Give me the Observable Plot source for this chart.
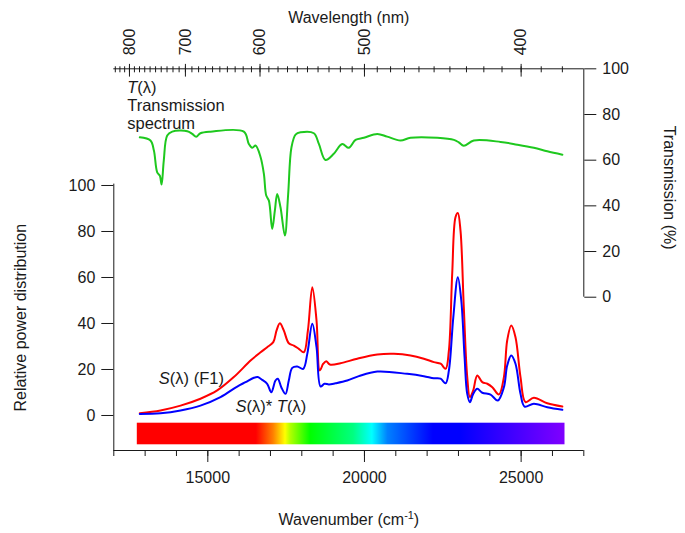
<!DOCTYPE html>
<html>
<head>
<meta charset="utf-8">
<script src="https://cdn.jsdelivr.net/npm/d3@7"></script>
<script src="https://cdn.jsdelivr.net/npm/@observablehq/plot@0.6"></script>
<style>
  html, body { margin: 0; padding: 0; background: #fff; }
</style>
</head>
<body>
<div id="chart"></div>
<script>
// ---------- data ----------
// Transmission spectrum T(λ), in %, against wavenumber (cm^-1)
const wnT = [12830,13170,13280,13385,13470,13525,13595,13705,13865,14345,14505,14630,14765,15085,16150,16310,16420,16525,16685,16790,16865,16950,17055,17140,17215,17320,17460,17565,17670,17800,17960,18385,18545,18755,19020,19290,19500,19715,19980,20410,20725,21150,21470,22325,22855,23010,23170,23490,24345,24875,25405,25835,26315];
const transT = [70.0,68.6,64.2,54.7,53.2,49.3,59.8,70.8,72.5,72.7,71.5,70.3,71.8,72.5,72.5,67.1,65.4,66.4,61.3,54.0,44.5,42.3,29.9,37.9,45.2,39.4,27.0,45.2,65.6,71.2,72.2,71.8,67.1,60.1,62.8,67.1,65.4,68.9,69.8,71.5,70.3,68.6,69.8,69.8,68.9,67.8,66.3,68.6,68.0,66.8,65.4,63.9,62.4];

// S(λ) (F1) relative power distribution
const wnF1 = [12830,13490,14130,14765,15300,15830,16365,16685,16895,17090,17195,17300,17425,17585,17745,17905,18065,18195,18335,18470,18575,18685,18780,18895,19235,19770,20410,20940,21470,21895,22215,22430,22590,22695,22800,22905,22980,23065,23170,23280,23365,23470,23600,23760,23920,24080,24290,24450,24555,24685,24820,24980,25140,25405,25835,26315];
const sF1 = [1.0,2.2,4.3,7.3,10.9,16.7,23.9,27.5,29.7,31.9,37.0,40.1,37.0,31.4,30.4,29.0,27.5,37.0,55.8,41.3,19.6,22.5,23.6,22.2,22.7,24.7,26.5,26.8,26.1,24.7,23.2,22.5,20.3,28.3,61.6,86.2,88.0,80.4,47.1,16.7,8.0,10.9,17.4,14.5,13.8,12.3,9.1,16.7,32.6,39.1,34.0,16.7,5.8,7.7,5.3,3.9];

// S(λ)*T(λ)
const wnST = [12830,13490,14130,14765,15405,15940,16205,16470,16595,16735,16895,17025,17160,17235,17345,17480,17585,17695,17855,18045,18175,18335,18470,18600,18725,18865,19075,19450,19820,20410,21365,21895,22215,22430,22590,22695,22835,22980,23090,23195,23280,23365,23470,23600,23760,24025,24255,24450,24555,24685,24820,24980,25110,25405,25835,26315];
const sST = [0.7,1.0,2.2,4.3,8.0,12.6,14.5,16.4,16.7,15.5,13.8,10.1,15.2,16.0,12.3,9.4,15.2,20.7,21.3,20.3,26.8,39.9,29.7,12.6,13.8,13.5,14.0,15.2,17.1,19.1,18.1,17.1,16.2,16.0,14.0,19.6,42.7,60.1,50.0,25.3,9.4,5.8,9.4,11.6,9.9,9.1,6.5,12.3,21.7,26.1,22.5,9.4,3.9,5.1,3.6,2.5];

// tick values
const powerTicks = [0, 20, 40, 60, 80, 100];
const transTicks = [0, 20, 40, 60, 80, 100];
const wavenumberMajor = [15000, 20000, 25000];
const wavenumberMinor = d3.range(12000, 27001, 1000);
const wavelengthMajor = [800, 700, 600, 500, 400];
const wavelengthMinor = d3.range(380, 831, 10);

// visible-spectrum colour bar: wavenumber stops and colours
const spectrumStart = 12750, spectrumEnd = 26400;
const spectrumWn = [12750, 16550, 17100, 17480, 17650, 18280, 19650, 20250, 20750, 22200, 23050, 26400];
const spectrumColors = ["#ff0000","#ff0000","#ff8000","#ffff00","#b0ff00","#00ff00","#00ff80","#00ffff","#0080ff","#0000ff","#0000ff","#8000ff"];

// ---------- scales ----------
const xDomain = [12000, 27000];
const yDomain = [-15.22, 150.74];          // left (power) scale, shared frame
const tZero = 51.43, tScale = 0.993;        // transmission axis mapped onto the frame
const toP = t => tZero + t * tScale;
const fromP = p => (p - tZero) / tScale;

const transData = wnT.map((w, i) => ({w, v: toP(transT[i])}));
const f1Data = wnF1.map((w, i) => ({w, v: sF1[i]}));
const stData = wnST.map((w, i) => ({w, v: sST[i]}));
const bar = [{x1: spectrumStart, x2: spectrumEnd, y1: -3.35, y2: -12.74}];

const ink = "#1a1a1a";
const fs = 16;

const chart = Plot.plot({
  width: 685,
  height: 533,
  marginLeft: 113.3,
  marginRight: 101.7,
  marginTop: 68.3,
  marginBottom: 83,
  x: {domain: xDomain, label: null},
  y: {domain: yDomain, label: null},
  style: {fontFamily: "'Liberation Sans', Arial, sans-serif", fontSize: fs + "px", color: ink, background: "#fff", overflow: "visible"},
  marks: [
    // colour bar
    Plot.rect(bar, {x1: "x1", x2: "x2", y1: "y1", y2: "y2", fill: "#f00"}),
    // curves
    Plot.line(transData, {x: "w", y: "v", stroke: "#1ec81e", strokeWidth: 2, curve: "catmull-rom"}),
    Plot.line(f1Data, {x: "w", y: "v", stroke: "#ff0000", strokeWidth: 2, curve: "catmull-rom"}),
    Plot.line(stData, {x: "w", y: "v", stroke: "#0000ff", strokeWidth: 2, curve: "catmull-rom"}),

    // axis lines
    Plot.ruleY([yDomain[0]], {stroke: ink}),
    Plot.ruleY([yDomain[1]], {stroke: ink}),
    Plot.ruleX([xDomain[0]], {y1: yDomain[0], y2: 100.6, stroke: ink}),
    Plot.ruleX([xDomain[1]], {y1: toP(0), y2: yDomain[1], stroke: ink}),

    // bottom axis (wavenumber)
    Plot.axisX({anchor: "bottom", ticks: wavenumberMinor, tickSize: 6, fill: "none", label: null}),
    Plot.axisX({anchor: "bottom", ticks: wavenumberMajor, tickSize: 12, fill: "none", label: null}),
    Plot.axisX({anchor: "bottom", ticks: wavenumberMajor, tickSize: 0, tickPadding: 21, tickFormat: d => String(d), label: null}),

    // top axis (wavelength, nm)
    Plot.axisX({anchor: "top", ticks: wavelengthMinor.map(nm => 1e7 / nm), tickSize: 6, dy: 3, fill: "none", label: null}),
    Plot.axisX({anchor: "top", ticks: wavelengthMajor.map(nm => 1e7 / nm), tickSize: 12.7, dy: 7.3, fill: "none", label: null}),
    Plot.axisX({anchor: "top", ticks: wavelengthMajor.map(nm => 1e7 / nm), tickSize: 0, tickPadding: 13.5, tickRotate: -90, tickFormat: d => String(Math.round(1e7 / d)), label: null}),

    // left axis (relative power)
    Plot.axisY({anchor: "left", ticks: powerTicks, tickSize: 12, fill: "none", label: null}),
    Plot.axisY({anchor: "left", ticks: powerTicks, tickSize: 0, tickPadding: 18.5, label: null}),

    // right axis (transmission %)
    Plot.axisY({anchor: "right", ticks: transTicks.map(toP), tickSize: 12, fill: "none", label: null}),
    Plot.axisY({anchor: "right", ticks: transTicks.map(toP), tickSize: 0, tickPadding: 18.5, tickFormat: d => String(Math.round(fromP(d))), label: null}),

    // axis titles
    Plot.text(["Wavelength (nm)"], {frameAnchor: "top", lineAnchor: "middle", textAnchor: "middle", dy: -51, fontSize: fs, fill: ink}),
    Plot.text(["Wavenumber (cm^-1^)"], {frameAnchor: "bottom", lineAnchor: "middle", textAnchor: "middle", dy: 69, fontSize: fs, fill: ink}),
    Plot.text(["Relative power distribution"], {frameAnchor: "left", y: [42.5], dx: -93.3, rotate: -90, textAnchor: "middle", lineAnchor: "middle", fontSize: fs, fill: ink}),
    Plot.text(["Transmission (%)"], {frameAnchor: "right", y: [toP(48)], dx: 85, rotate: 90, textAnchor: "middle", lineAnchor: "middle", fontSize: fs, fill: ink}),

    // annotations
    Plot.text(["_T_(λ)"], {x: [12428], y: [142.4], textAnchor: "start", fontSize: 16.5, fill: ink}),
    Plot.text(["Transmission"], {x: [12428], y: [134.8], textAnchor: "start", fontSize: 16.5, fill: ink}),
    Plot.text(["spectrum"], {x: [12428], y: [126.8], textAnchor: "start", fontSize: 16.5, fill: ink}),
    Plot.text(["_S_(λ) (F1)"], {x: [13436], y: [15.9], textAnchor: "start", fontSize: 16.5, fill: ink}),
    Plot.text(["_S_(λ)* _T_(λ)"], {x: [15885], y: [3.9], textAnchor: "start", fontSize: 16.5, fill: ink})
  ]
});

document.getElementById("chart").appendChild(chart);

// colour gradient for the spectrum bar
const ns = "http://www.w3.org/2000/svg";
const defs = document.createElementNS(ns, "defs");
const grad = document.createElementNS(ns, "linearGradient");
grad.setAttribute("id", "spectrumGradient");
grad.setAttribute("x1", "0"); grad.setAttribute("x2", "1");
grad.setAttribute("y1", "0"); grad.setAttribute("y2", "0");
spectrumWn.forEach((w, i) => {
  const s = document.createElementNS(ns, "stop");
  s.setAttribute("offset", ((w - spectrumStart) / (spectrumEnd - spectrumStart)).toFixed(4));
  s.setAttribute("stop-color", spectrumColors[i]);
  grad.appendChild(s);
});
defs.appendChild(grad);
chart.insertBefore(defs, chart.firstChild);
chart.querySelectorAll('g[aria-label="rect"] rect').forEach(r => r.setAttribute("fill", "url(#spectrumGradient)"));

// rich text: _italic_ and ^superscript^
chart.querySelectorAll("text").forEach(t => {
  const s = t.textContent;
  if (!/[_^]/.test(s)) return;
  while (t.firstChild) t.removeChild(t.firstChild);
  let mode = null, buf = "", pendingDy = null;
  const flush = () => {
    if (!buf) return;
    const sp = document.createElementNS(ns, "tspan");
    sp.textContent = buf;
    if (mode === "_") sp.setAttribute("font-style", "italic");
    if (mode === "^") { sp.setAttribute("font-size", "0.68em"); sp.setAttribute("dy", "-0.55em"); pendingDy = "0.374em"; }
    else if (pendingDy) { sp.setAttribute("dy", pendingDy); pendingDy = null; }
    t.appendChild(sp);
    buf = "";
  };
  for (const ch of s) {
    if (ch === "_" || ch === "^") { flush(); mode = (mode === ch) ? null : ch; }
    else buf += ch;
  }
  flush();
});
</script>
</body>
</html>
